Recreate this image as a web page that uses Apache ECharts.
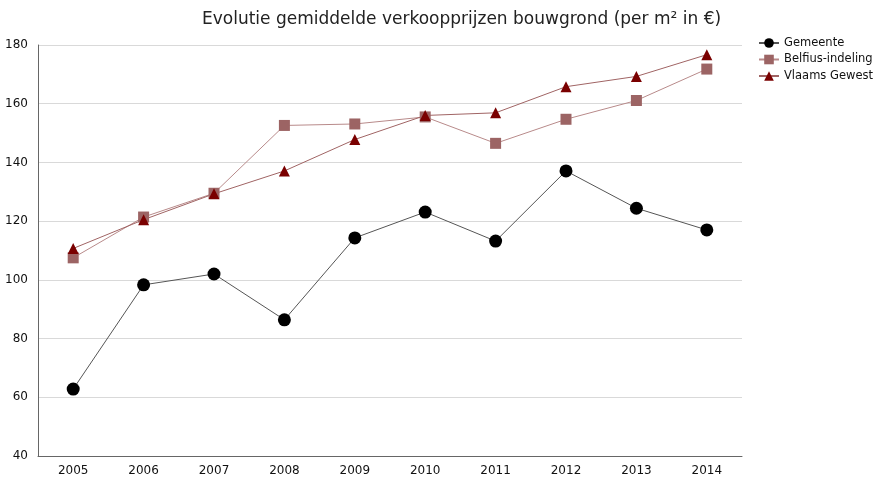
<!DOCTYPE html>
<html>
<head>
<meta charset="utf-8">
<script src="https://cdn.jsdelivr.net/npm/echarts@6/dist/echarts.min.js"></script>
<style>
  html,body{margin:0;padding:0;background:#fff;}
  #chart{width:875px;height:480px;}
</style>
</head>
<body>
<div id="chart"></div>
<script>
// jaren en reeksen
const years = ['2005','2006','2007','2008','2009','2010','2011','2012','2013','2014']
const gemeente = [62.8, 98.3, 102, 86.4, 114.3, 123.1, 113.2, 137.1, 124.4, 117]
const belfius = [107.5, 121.4, 129.5, 152.6, 153.1, 155.5, 146.5, 154.7, 161.1, 171.8]
const vlaams = [110.7, 120.5, 129.3, 137.1, 147.8, 156, 156.9, 165.8, 169.3, 176.7]

let chart = echarts.init(document.getElementById('chart'))
const font = 'DejaVu Sans'
chart.setOption({
  animation: false,
  title: {
    text: 'Evolutie gemiddelde verkoopprijzen bouwgrond (per m² in €)',
    left: 197,
    top: 6,
    textStyle: {fontFamily: font, fontSize: 17, fontWeight: 'normal', color: '#222'}
  },
  legend: {
    orient: 'vertical',
    left: 758,
    top: 37,
    padding: 0,
    itemGap: 4.5,
    itemWidth: 20,
    itemHeight: 12,
    textStyle: {fontFamily: font, fontSize: 11.5, color: '#111'},
    data: ['Gemeente', 'Belfius-indeling', 'Vlaams Gewest']
  },
  grid: {left: 38, right: 133, top: 45, bottom: 24},
  xAxis: {
    type: 'category',
    data: years,
    axisLine: {lineStyle: {color: '#666'}},
    axisTick: {show: false},
    axisLabel: {fontFamily: font, fontSize: 12, color: '#111', margin: 9}
  },
  yAxis: {
    type: 'value',
    min: 40,
    max: 180,
    interval: 20,
    axisLine: {show: true, lineStyle: {color: '#666'}},
    axisTick: {show: false},
    axisLabel: {fontFamily: font, fontSize: 12, color: '#111', margin: 10},
    splitLine: {lineStyle: {color: '#d9d9d9'}}
  },
  series: [
    {
      name: 'Gemeente',
      type: 'line',
      data: gemeente,
      symbol: 'circle',
      symbolSize: 13,
      itemStyle: {color: '#000'},
      lineStyle: {color: '#555', width: 1}
    },
    {
      name: 'Belfius-indeling',
      type: 'line',
      data: belfius,
      symbol: 'rect',
      symbolSize: 11,
      itemStyle: {color: '#9c6464'},
      lineStyle: {color: '#b88a8a', width: 1}
    },
    {
      name: 'Vlaams Gewest',
      type: 'line',
      data: vlaams,
      symbol: 'triangle',
      symbolSize: 11,
      itemStyle: {color: '#7a0000'},
      lineStyle: {color: '#a06464', width: 1}
    }
  ]
})
</script>
</body>
</html>
